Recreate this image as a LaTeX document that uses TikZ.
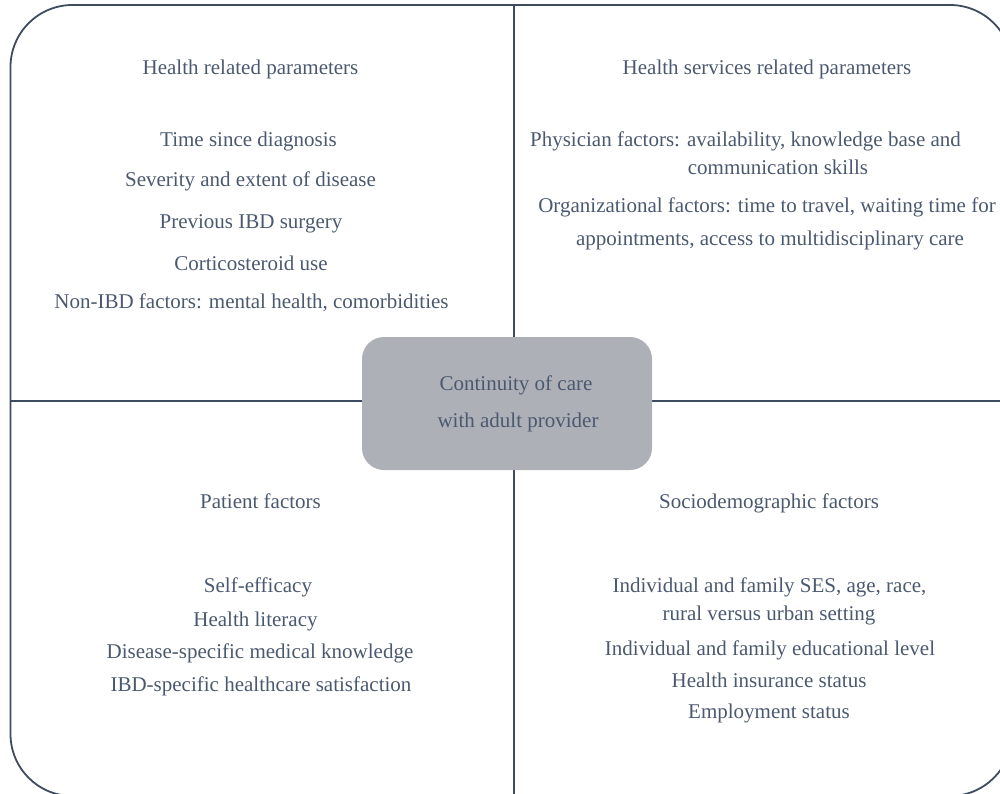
\documentclass[tikz,border=0pt]{standalone}
\usepackage{fontspec}
\setmainfont{Liberation Serif}
\definecolor{linec}{HTML}{3E4A5E}
\definecolor{textc}{HTML}{4B596F}
\definecolor{boxc}{HTML}{ADB0B7}
\begin{document}
\begin{tikzpicture}[x=1pt,y=-1pt,
  txt/.style={anchor=base, text=textc, font=\fontsize{21}{25}\selectfont, inner sep=0pt},
  divider/.style={draw=linec, line width=1.8pt},
  hub/.style={fill=boxc, rounded corners=22pt}]
\useasboundingbox (0,0) rectangle (1000,794);
\clip (0,0) rectangle (1000,794);
% outer frame
\draw[divider, rounded corners=62pt] (10.5,5) rectangle (1012,796);
% dividers
\coordinate (L) at (10.5,401);
\coordinate (R) at (1012,401);
\coordinate (T) at (514,5);
\coordinate (B) at (514,796);
\draw[divider] (L) -- (R);
\draw[divider] (T) -- (B);
% center box
\fill[hub] (362,337) rectangle (652,470);
\node[txt] (c1) at (516,390) {Continuity of care};
\node[txt] (c2) at (518,427) {with adult provider};
% top-left
\node[txt] (h1) at (250.5,75) {Health related parameters};
\node[txt] (a1) at (248.5,147) {Time since diagnosis};
\node[txt] (a2) at (250.5,187) {Severity and extent of disease};
\node[txt] (a3) at (251,229) {Previous IBD surgery};
\node[txt] (a4) at (251,270) {Corticosteroid use};
\node[txt] (a5) at (251.5,308) {Non-IBD factors: mental health, comorbidities};
% top-right
\node[txt] (h2) at (767,75) {Health services related parameters};
\node[txt] (b1) at (745.5,147) {Physician factors: availability, knowledge base and};
\node[txt] (b2) at (778,175) {communication skills};
\node[txt] (b3) at (767,213) {Organizational factors: time to travel, waiting time for};
\node[txt] (b4) at (770,245) {appointments, access to multidisciplinary care};
% bottom-left
\node[txt] (h3) at (260.5,508) {Patient factors};
\node[txt] (d1) at (258,592) {Self-efficacy};
\node[txt] (d2) at (255.5,626) {Health literacy};
\node[txt] (d3) at (260,658) {Disease-specific medical knowledge};
\node[txt] (d4) at (261,691) {IBD-specific healthcare satisfaction};
% bottom-right
\node[txt] (h4) at (769,508) {Sociodemographic factors};
\node[txt] (e1) at (769.5,592) {Individual and family SES, age, race,};
\node[txt] (e2) at (769,620) {rural versus urban setting};
\node[txt] (e3) at (770,655) {Individual and family educational level};
\node[txt] (e4) at (769,687) {Health insurance status};
\node[txt] (e5) at (769,718) {Employment status};
\end{tikzpicture}
\end{document}
